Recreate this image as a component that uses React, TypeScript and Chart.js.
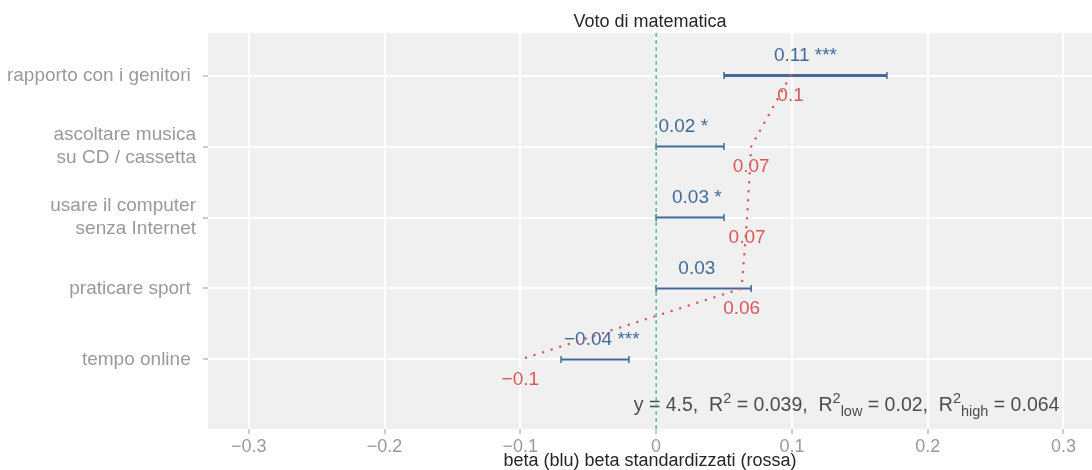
import React, { useEffect, useRef } from "react";
import { Chart, registerables } from "chart.js";

Chart.register(...registerables);

const FONT = '"Liberation Sans", Arial, Helvetica, sans-serif';

// ---- data ----
const categories: string[][] = [
  ["rapporto con i genitori "],
  ["ascoltare musica", "su CD / cassetta"],
  ["usare il computer", "senza Internet"],
  ["praticare sport "],
  ["tempo online "],
];
const rows = [5, 4, 3, 2, 1];
const betas = [0.11, 0.02, 0.03, 0.03, -0.04];
const ciLow = [0.05, 0.0, 0.0, 0.0, -0.07];
const ciHigh = [0.17, 0.05, 0.05, 0.07, -0.02];
const stars = ["***", "*", "*", "", "***"];
const stdBetas = [0.099, 0.07, 0.067, 0.063, -0.1];
const xTicks = [-0.3, -0.2, -0.1, 0, 0.1, 0.2, 0.3];
const intercept = 4.5;
const r2 = 0.039;
const r2low = 0.02;
const r2high = 0.064;
const titleText = "Voto di matematica";
const xTitle = "beta (blu) beta standardizzati (rossa)";

// ---- scale ranges / annotation anchor ----
const xMin = -0.33;
const xMax = 0.321;
const yMin = 0.02;
const yMax = 5.6;
const annotX = 0.297;
const annotY = 0.28;

const BLUE = "#41699b";
const RED = "#d9585b";
const TEAL = "#3aa79f";
const GRAY = "#9a9a9a";

const fmt = (v: number) => {
  const r = parseFloat(v.toFixed(2));
  return (r < 0 ? "\u2212" : "") + String(Math.abs(r));
};

const textPlugin = {
  id: "texts",
  beforeDraw(chart: any) {
    const { ctx, chartArea: a } = chart;
    ctx.save();
    ctx.fillStyle = "#f0f0f0";
    ctx.fillRect(a.left, a.top, a.right - a.left, a.bottom - a.top);
    ctx.restore();
  },
  beforeDatasetsDraw(chart: any) {
    const { ctx } = chart;
    const xs = chart.scales.x;
    const ys = chart.scales.y;
    ctx.save();
    ctx.font = `19px ${FONT}`;
    ctx.textAlign = "center";
    ctx.textBaseline = "middle";
    betas.forEach((b, i) => {
      ctx.fillStyle = BLUE;
      const t = fmt(b) + (stars[i] ? " " + stars[i] : "");
      ctx.fillText(t, xs.getPixelForValue(b), ys.getPixelForValue(rows[i]) - 20);
    });
    stdBetas.forEach((b, i) => {
      ctx.fillStyle = RED;
      ctx.fillText(fmt(b), xs.getPixelForValue(b), ys.getPixelForValue(rows[i]) + 20);
    });

    // annotation with super/subscripts
    const segs: { t: string; k: "n" | "sup" | "sub" }[] = [
      { t: `y = ${intercept},  R`, k: "n" },
      { t: "2", k: "sup" },
      { t: ` = ${r2},  R`, k: "n" },
      { t: "2", k: "sup" },
      { t: "low", k: "sub" },
      { t: ` = ${r2low},  R`, k: "n" },
      { t: "2", k: "sup" },
      { t: "high", k: "sub" },
      { t: ` = ${r2high}`, k: "n" },
    ];
    const fontFor = (k: string) => (k === "n" ? `19.5px ${FONT}` : `14.5px ${FONT}`);
    let total = 0;
    segs.forEach((s) => {
      ctx.font = fontFor(s.k);
      total += ctx.measureText(s.t).width;
    });
    let cx = xs.getPixelForValue(annotX) - total;
    const by = ys.getPixelForValue(annotY);
    ctx.textAlign = "left";
    ctx.textBaseline = "alphabetic";
    ctx.fillStyle = "#4d4d4d";
    segs.forEach((s) => {
      ctx.font = fontFor(s.k);
      const dy = s.k === "sup" ? -8 : s.k === "sub" ? 5 : 0;
      ctx.fillText(s.t, cx, by + dy);
      cx += ctx.measureText(s.t).width;
    });
    ctx.restore();
  },
};

export default function App() {
  const ref = useRef<HTMLCanvasElement>(null);
  useEffect(() => {
    document.body.style.margin = "0";
    const canvas = ref.current!;
    const datasets: any[] = [];
    datasets.push({
      type: "line",
      data: [
        { x: 0, y: yMin },
        { x: 0, y: yMax },
      ],
      borderColor: TEAL,
      borderWidth: 1.3,
      borderDash: [4, 3],
      pointRadius: 0,
    });
    datasets.push({
      type: "line",
      data: stdBetas.map((v, i) => ({ x: v, y: rows[i] })),
      borderColor: RED,
      borderWidth: 2.5,
      borderDash: [0, 9],
      borderCapStyle: "round",
      pointRadius: 0,
      tension: 0,
    });
    rows.forEach((r, i) => {
      datasets.push({
        type: "line",
        data: [
          { x: ciLow[i], y: r },
          { x: ciHigh[i], y: r },
        ],
        borderColor: BLUE,
        borderWidth: i === 0 ? 3 : 2,
        pointStyle: "line",
        rotation: 90,
        pointRadius: 3.5,
        pointBorderWidth: 1.5,
        pointBorderColor: BLUE,
        pointBackgroundColor: BLUE,
        pointHoverRadius: 3.5,
      });
    });

    const chart = new Chart(canvas, {
      type: "line",
      data: { datasets },
      plugins: [textPlugin],
      options: {
        animation: false,
        responsive: false,
        events: [],
        layout: { padding: 0, autoPadding: false },
        font: { family: FONT },
        plugins: {
          legend: { display: false },
          tooltip: { enabled: false },
          title: {
            display: true,
            text: titleText,
            fullSize: false,
            color: "#262626",
            font: { family: FONT, size: 18, weight: "normal", lineHeight: 1.0 },
            padding: { top: 13, bottom: 2 },
          },
        },
        scales: {
          x: {
            type: "linear",
            min: xMin,
            max: xMax,
            afterBuildTicks: (s: any) => {
              s.ticks = xTicks.map((v) => ({ value: v }));
            },
            afterFit: (s: any) => {
              s.height = 41;
              s.paddingLeft = 0;
              s.paddingRight = 0;
            },
            border: { display: false },
            grid: {
              color: "#ffffff",
              lineWidth: 2,
              tickColor: GRAY,
              tickLength: 5,
              tickWidth: 1,
            },
            ticks: {
              color: GRAY,
              padding: 4,
              autoSkip: false,
              maxRotation: 0,
              font: { family: FONT, size: 18, lineHeight: 1.0 },
              callback: (v: any) => (Number(v) === 0 ? "0" : fmt(Number(v))),
            },
            title: {
              display: true,
              text: xTitle,
              color: "#262626",
              font: { family: FONT, size: 18, lineHeight: 1.0 },
              padding: { top: 0, bottom: 0 },
            },
          },
          y: {
            type: "linear",
            min: yMin,
            max: yMax,
            afterBuildTicks: (s: any) => {
              s.ticks = rows.map((v) => ({ value: v }));
            },
            afterFit: (s: any) => {
              s.width = 208;
              s.paddingTop = 0;
              s.paddingBottom = 0;
            },
            border: { display: false },
            grid: {
              color: "#ffffff",
              lineWidth: 2,
              tickColor: GRAY,
              tickLength: 5,
              tickWidth: 1,
            },
            ticks: {
              color: GRAY,
              padding: 7,
              autoSkip: false,
              font: { family: FONT, size: 19, lineHeight: 1.2 },
              callback: (v: any) => {
                const i = rows.indexOf(Number(v));
                return i >= 0 ? categories[i] : "";
              },
            },
          },
        },
      } as any,
    });
    return () => chart.destroy();
  }, []);
  return (
    <canvas
      ref={ref}
      width={1092}
      height={470}
      style={{ display: "block", width: 1092, height: 470 }}
    />
  );
}
